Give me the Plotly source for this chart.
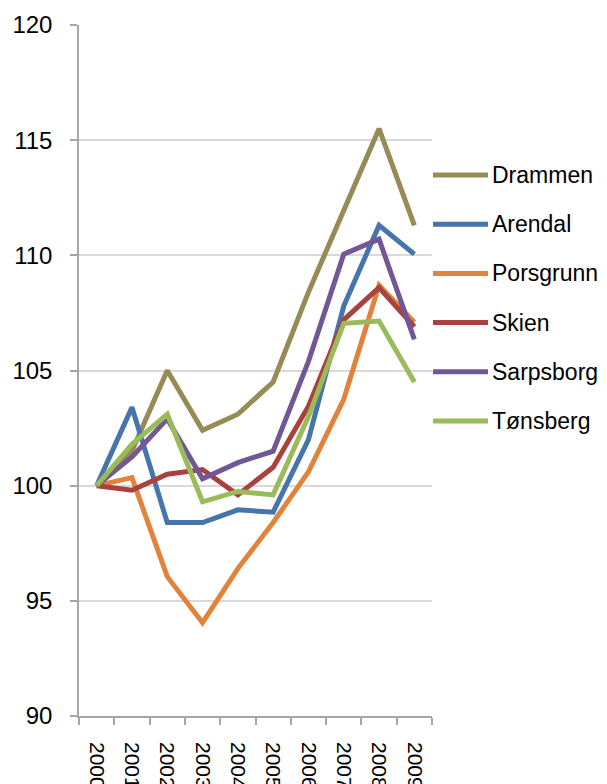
import plotly.graph_objects as go

years = ["2000", "2001", "2002", "2003", "2004", "2005", "2006", "2007", "2008", "2009"]
series_names = ["Drammen", "Arendal", "Porsgrunn", "Skien", "Sarpsborg", "Tønsberg"]
drammen = [100, 101.5, 105.0, 102.4, 103.1, 104.5, 108.4, 112.0, 115.5, 111.3]
arendal = [100, 103.4, 98.4, 98.4, 98.95, 98.85, 102.0, 107.8, 111.3, 110.05]
porsgrunn = [100, 100.35, 96.05, 94.05, 96.4, 98.4, 100.6, 103.75, 108.7, 107.1]
skien = [100, 99.8, 100.5, 100.7, 99.6, 100.8, 103.45, 107.2, 108.6, 106.9]
sarpsborg = [100, 101.25, 102.9, 100.3, 101.0, 101.5, 105.4, 110.05, 110.7, 106.35]
tonsberg = [100, 101.8, 103.1, 99.3, 99.75, 99.6, 103.0, 107.05, 107.15, 104.5]
colors = ["#968B55", "#4675AB", "#E1833A", "#A9423F", "#715796", "#9ABB59"]

values = [drammen, arendal, porsgrunn, skien, sarpsborg, tonsberg]

OFF = 8  # page body margin
W, H = 607 - OFF, 784 - OFF
# plot area in window pixels: x 79..432, y 25..716
PL, PR, PT, PB = 79, 432, 25, 716
L, T = PL - OFF, PT - OFF
R, B = W - (PR - OFF), H - (PB - OFF)
pw, ph = PR - PL, PB - PT

fig = go.Figure()
for name, vals, c in zip(series_names, values, colors):
    fig.add_trace(go.Scatter(x=years, y=vals, name=name, mode="lines",
                             line=dict(color=c, width=5), showlegend=False))

font = "Liberation Sans, Arial, sans-serif"
shapes = []
annotations = []
leg_x0 = (433 - PL) / pw
leg_x1 = (488 - PL) / pw
txt_x = (490 - PL) / pw
for i, (name, c) in enumerate(zip(series_names, colors)):
    ypx = 175 + i * 49.2
    yp = (PB - ypx) / ph
    shapes.append(dict(type="line", xref="paper", yref="paper", x0=leg_x0, x1=leg_x1,
                       y0=yp, y1=yp, line=dict(color=c, width=5)))
    annotations.append(dict(xref="paper", yref="paper", x=txt_x, y=yp, text=name,
                            showarrow=False, xanchor="left", yanchor="middle",
                            font=dict(family=font, size=23, color="#000000")))

fig.update_layout(
    width=W, height=H,
    margin=dict(l=L, r=R, t=T, b=B, autoexpand=False),
    paper_bgcolor="white", plot_bgcolor="white",
    shapes=shapes, annotations=annotations,
    font=dict(family=font, size=22, color="#000000"),
)
fig.update_xaxes(type="category", range=[-0.5, 9.5], tickson="boundaries",
                 ticks="outside", ticklen=7, tickcolor="#A6A6A6", tickwidth=1.5,
                 showline=True, linecolor="#A6A6A6", linewidth=1.5,
                 showgrid=False, tickangle=90, ticklabelstandoff=20,
                 tickfont=dict(family=font, size=21, color="#000000"))
fig.update_yaxes(range=[90, 120], dtick=5, tick0=90,
                 ticks="outside", ticklen=7, tickcolor="#A6A6A6", tickwidth=1.5,
                 showline=True, linecolor="#A6A6A6", linewidth=1.5,
                 showgrid=True, gridcolor="#D9D9D9", gridwidth=1.5, zeroline=False,
                 ticklabelstandoff=13,
                 tickfont=dict(family=font, size=24, color="#000000"))

fig.write_html("out.html")
